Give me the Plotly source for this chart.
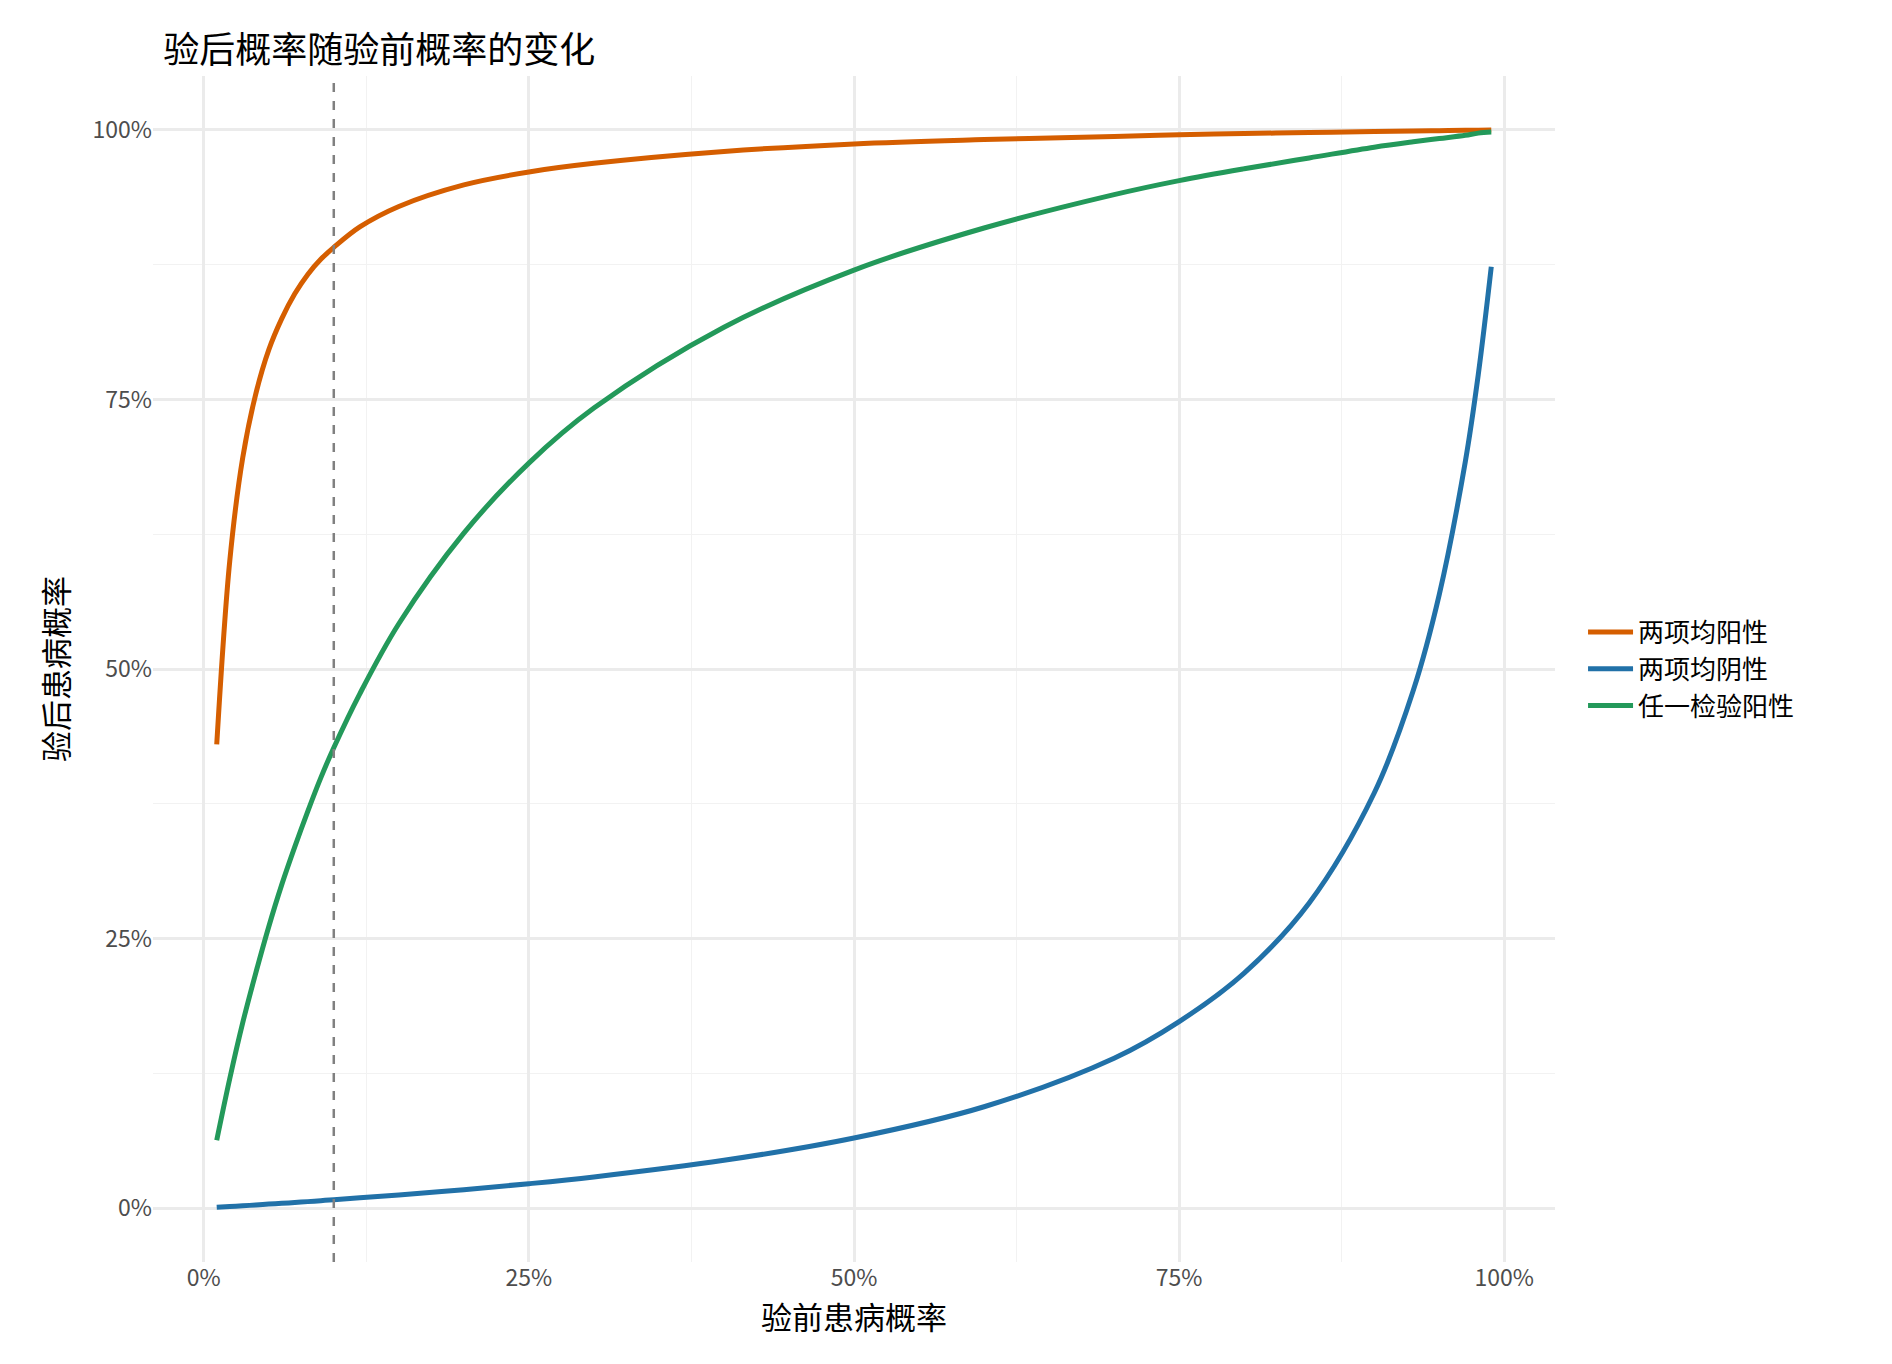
import plotly.graph_objects as go

# ==============================
# Data
# ==============================

pretest = [0.01, 0.02, 0.03, 0.04, 0.05, 0.06, 0.07, 0.08, 0.09, 0.10, 0.12, 0.15, 0.20, 0.25,
           0.30, 0.40, 0.50, 0.60, 0.70, 0.75, 0.80, 0.85, 0.90, 0.93, 0.95, 0.97, 0.98, 0.99]

both_pos = [0.430, 0.600, 0.696, 0.755, 0.796, 0.825, 0.848, 0.866, 0.880, 0.891, 0.910, 0.929,
            0.949, 0.961, 0.969, 0.980, 0.987, 0.991, 0.994, 0.9955, 0.9966, 0.9976, 0.9985,
            0.999, 0.9993, 0.9996, 0.9997, 0.9999]

both_neg = [0.0007, 0.0014, 0.0021, 0.0029, 0.0037, 0.0044, 0.0052, 0.0060, 0.0069, 0.0077,
            0.0095, 0.0121, 0.0171, 0.0226, 0.0289, 0.0443, 0.065, 0.094, 0.139, 0.173, 0.218,
            0.283, 0.385, 0.480, 0.569, 0.692, 0.773, 0.873]

any_pos = [0.063, 0.120, 0.172, 0.218, 0.261, 0.300, 0.335, 0.368, 0.399, 0.427, 0.477, 0.542,
           0.626, 0.691, 0.742, 0.817, 0.870, 0.909, 0.940, 0.953, 0.964, 0.974, 0.984, 0.989,
           0.992, 0.995, 0.997, 0.998]

series_names = ["两项均阳性", "两项均阴性", "任一检验阳性"]
series_colors = ["#D55E00", "#2171A8", "#23995A"]
cutoff = 0.10

# ==============================
# Figure
# ==============================

font = "Noto Sans CJK SC"
fig = go.Figure()
for name, vals, col in zip(series_names, [both_pos, both_neg, any_pos], series_colors):
    fig.add_trace(go.Scatter(x=pretest, y=vals, mode="lines", name=name,
                             line=dict(color=col, width=5, shape="spline", smoothing=1.0)))

fig.add_vline(x=cutoff, line=dict(color="#808080", width=2.5, dash="dash"))

axis_common = dict(showgrid=True, gridcolor="#EBEBEB", gridwidth=2.5, zeroline=False,
                   showline=False, ticks="", tickformat=".0%",
                   tickfont=dict(size=23, color="#4D4D4D", family=font),
                   minor=dict(showgrid=True, gridcolor="#F2F2F2", gridwidth=1.2))

fig.update_layout(
    width=1892, height=1364,
    paper_bgcolor="white", plot_bgcolor="white",
    font=dict(family=font, color="black"),
    title=dict(text="验后概率随验前概率的变化", x=0.082, xanchor="left", y=0.978,
               font=dict(size=36, family=font)),
    margin=dict(l=145, r=345, t=68, b=110),
    xaxis=dict(axis_common, range=[-0.039, 1.039], tickvals=[0, 0.25, 0.5, 0.75, 1],
               title=dict(text="验前患病概率", font=dict(size=31), standoff=6)),
    yaxis=dict(axis_common, range=[-0.05, 1.05], tickvals=[0, 0.25, 0.5, 0.75, 1],
               title=dict(text="验后患病概率", font=dict(size=31), standoff=14)),
    legend=dict(x=1.02, y=0.5, yanchor="middle", font=dict(size=26), itemwidth=45,
                tracegroupgap=14, bgcolor="rgba(0,0,0,0)"),
)
fig.update_xaxes(minor=dict(tickvals=[0.125, 0.375, 0.625, 0.875]))
fig.update_yaxes(minor=dict(tickvals=[0.125, 0.375, 0.625, 0.875]))

fig.write_html("out.html")
